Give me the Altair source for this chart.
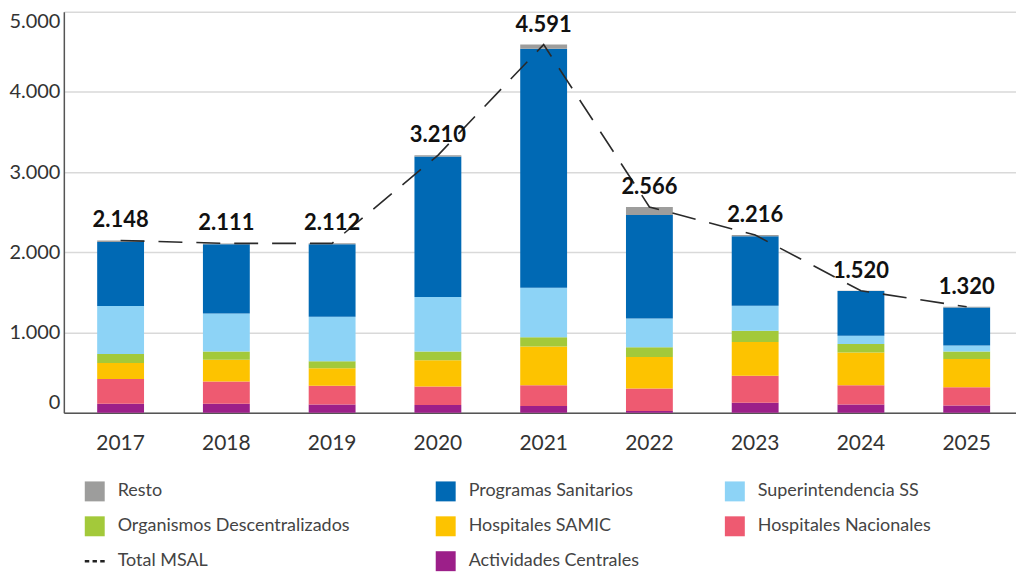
import altair as alt
import pandas as pd

years = ["2017", "2018", "2019", "2020", "2021", "2022", "2023", "2024", "2025"]

# stack order bottom -> top
stack_series = ["Actividades Centrales", "Hospitales Nacionales", "Hospitales SAMIC",
                "Organismos Descentralizados", "Superintendencia SS",
                "Programas Sanitarios", "Resto"]
actividades = [110, 110, 102, 94, 82, 20, 122, 102, 90]
nacionales = [310, 277, 232, 233, 261, 281, 338, 241, 228]
samic = [200, 274, 221, 325, 482, 392, 421, 407, 351]
organismos = [110, 102, 86, 110, 114, 122, 139, 107, 94]
superintendencia = [600, 473, 554, 681, 619, 360, 314, 101, 74]
programas = [800, 864, 905, 1752, 2982, 1289, 865, 560, 476]
resto = [18, 11, 12, 15, 51, 102, 17, 2, 7]
totals = [2148, 2111, 2112, 3210, 4591, 2566, 2216, 1520, 1320]

# legend entries, column by column
legend_order = ["Resto", "Organismos Descentralizados", "Total MSAL",
                "Programas Sanitarios", "Hospitales SAMIC", "Actividades Centrales",
                "Superintendencia SS", "Hospitales Nacionales"]
legend_colors = ["#9d9d9c", "#a3c93a", "#222222",
                 "#0069b4", "#fdc300", "#9c1f89",
                 "#8dd3f6", "#ee5a71"]
dash_path = "M-1,-0.12H-0.55V0.12H-1Z M-0.22,-0.12H0.22V0.12H-0.22Z M0.55,-0.12H1V0.12H0.55Z"
legend_shapes = ["square", "square", dash_path, "square", "square", "square", "square", "square"]

values_by_series = [actividades, nacionales, samic, organismos, superintendencia, programas, resto]
rows = []
for rank, (name, vals) in enumerate(zip(stack_series, values_by_series)):
    for y, v in zip(years, vals):
        rows.append({"anio": y, "serie": name, "valor": v, "rank": rank})
df = pd.DataFrame(rows)
df_tot = pd.DataFrame({"anio": years, "total": totals, "serie": "Total MSAL"})

FONT = "Lato"

x_enc = alt.X("anio:N", title=None,
              scale=alt.Scale(paddingInner=0.557, paddingOuter=0.28, align=0.563),
              axis=alt.Axis(labelAngle=0, labelFontSize=21, labelColor="#333333",
                            labelFont=FONT, labelPadding=20, ticks=False,
                            domainColor="#555555", domainWidth=1.5))
y_scale = alt.Scale(domain=[0, 5000], nice=False)
y_axis = alt.Axis(values=[0, 1000, 2000, 3000, 4000, 5000], labelFontSize=20,
                  labelColor="#333333", labelFont=FONT, labelPadding=4, ticks=False,
                  labelFlush=True, gridColor="#d9d9d9", gridWidth=1.5,
                  domainColor="#555555", domainWidth=1.5,
                  labelExpr="replace(format(datum.value, ','), ',', '.')")

legend = alt.Legend(title=None, orient="none", legendX=21, legendY=471, columns=3,
                    columnPadding=86, rowPadding=15, labelFontSize=18,
                    labelColor="#444444", labelFont=FONT, symbolSize=400,
                    labelOffset=13, symbolStrokeWidth=0, labelLimit=400)
color_scale = alt.Scale(domain=legend_order, range=legend_colors)
shape_scale = alt.Scale(domain=legend_order, range=legend_shapes)

bars = alt.Chart(df).mark_bar(size=47).encode(
    x=x_enc,
    y=alt.Y("sum(valor):Q", title=None, scale=y_scale, axis=y_axis, stack="zero"),
    color=alt.Color("serie:N", scale=color_scale, legend=legend),
    order=alt.Order("rank:Q", sort="ascending"),
)

legend_pts = alt.Chart(df).mark_point(filled=True, opacity=1).encode(
    x="anio:N",
    y="valor:Q",
    color=alt.Color("serie:N", scale=color_scale, legend=legend),
    shape=alt.Shape("serie:N", scale=shape_scale, legend=legend),
).transform_filter("datum.valor < 0")

line = alt.Chart(df_tot).mark_line(color="#2a2a2a", strokeWidth=1.6,
                                   strokeDash=[24, 14]).encode(
    x="anio:N",
    y=alt.Y("total:Q"),
)

labels = alt.Chart(df_tot).transform_calculate(
    lab="replace(format(datum.total, ','), ',', '.')"
).mark_text(dy=-20, fontSize=22, fontWeight="bold", font=FONT, color="#111111").encode(
    x="anio:N",
    y="total:Q",
    text="lab:N",
)

chart = alt.layer(bars, legend_pts, line, labels).properties(
    width=955, height=402, padding={"top": 3, "left": 0, "right": 0, "bottom": 0}
).configure_view(stroke=None).configure_axisY(gridColor="#d9d9d9")

chart.save("out.html", embed_options={"renderer": "svg", "actions": False})
